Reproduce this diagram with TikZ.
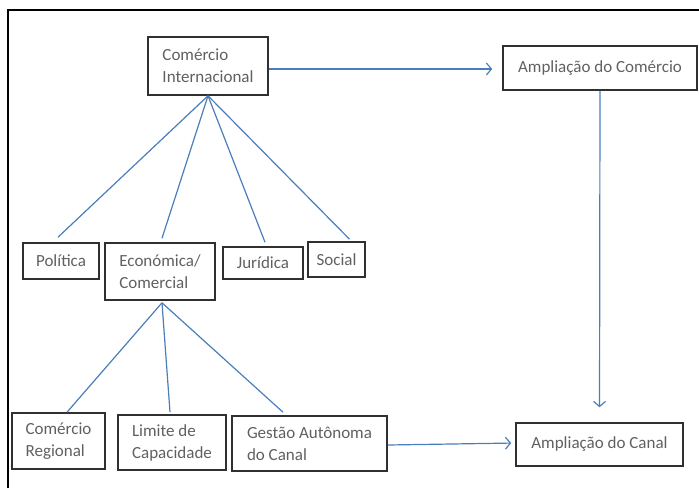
\documentclass[tikz,border=0pt]{standalone}
\usepackage{fontspec}
\setmainfont{Carlito}
\usetikzlibrary{arrows.meta,calc}
\definecolor{lineblue}{HTML}{4A7EBB}
\definecolor{txtgray}{HTML}{606060}
\definecolor{boxgray}{HTML}{303030}
\tikzset{
  box/.style={draw=boxgray, line width=1.6pt, rectangle, inner sep=0pt, align=left,
    text=txtgray, font=\fontsize{17}{22}\selectfont},
  link/.style={draw=lineblue, line width=1.2pt},
  arr/.style={link, -{Straight Barb[length=5pt,width=12pt,line width=1.2pt]}},
  frame/.style={draw=black, line width=2pt}
}
\begin{document}
\begin{tikzpicture}[x=1pt,y=-1pt]
\useasboundingbox (0,0) rectangle (699,488);
\draw[frame] (8,488) -- (8,10) -- (699,10);
\node[box, minimum width=120pt, minimum height=58pt] (ci) at (208,66) {Comércio\\Internacional};
\node[box, minimum width=194pt, minimum height=44pt] (ac) at (600,68) {Ampliação do Comércio};
\node[box, minimum width=76pt, minimum height=36pt] (pol) at (61,261) {Política};
\node[box, minimum width=110pt, minimum height=57pt] (eco) at (160,271.5) {Económica/\\Comercial};
\node[box, minimum width=80pt, minimum height=32pt] (jur) at (263,263) {Jurídica};
\node[box, minimum width=57pt, minimum height=35pt] (soc) at (336.5,259.5) {Social};
\node[box, minimum width=93pt, minimum height=56pt] (cr) at (58.5,441) {Comércio\\Regional};
\node[box, minimum width=108pt, minimum height=55pt] (lim) at (172,442.5) {Limite de\\Capacidade};
\node[box, minimum width=155pt, minimum height=55pt] (ges) at (309.5,443.5) {Gestão Autônoma\\do Canal};
\node[box, minimum width=167pt, minimum height=43pt] (can) at (599.5,444.5) {Ampliação do Canal};
% connectors from Comercio Internacional
\draw[link] (ci.south) -- ($(pol.north)+(-3,-5)$);
\draw[link] (ci.south) -- ($(eco.north)+(2,-4)$);
\draw[link] (ci.south) -- ($(jur.north)+(2,-4)$);
\draw[link] (ci.south) -- ($(soc.north)+(13,-2)$);
% connectors from Economica
\draw[link] ($(eco.south)+(2,2)$) -- ($(cr.north)+(8.5,0)$);
\draw[link] ($(eco.south)+(2,2)$) -- ($(lim.north)+(-2,-2)$);
\draw[link] ($(eco.south)+(2,2)$) -- ($(ges.north)+(-26.5,-3)$);
% arrows
\draw[arr, shorten >=10pt] ($(ci.east)+(0,3)$) -- ($(ac.west)+(0,1)$);
\draw[arr, shorten >=15pt] (ac.south) -- (can.north);
\draw[arr, shorten >=4pt] ($(ges.east)+(0,1.5)$) -- ($(can.west)+(0,-1.5)$);
\end{tikzpicture}
\end{document}
